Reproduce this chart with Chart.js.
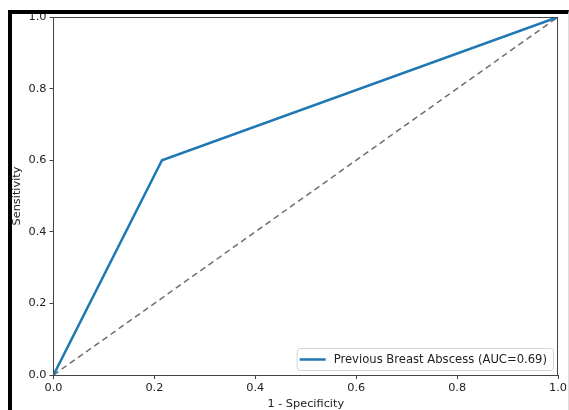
<!DOCTYPE html>
<html>
<head>
<meta charset="utf-8">
<script src="https://cdn.jsdelivr.net/npm/chart.js@4"></script>
<style>
  html, body { margin: 0; padding: 0; background: #fff; }
  #wrap { position: relative; width: 569px; height: 410px; }
  #frame {
    position: absolute; left: 8px; top: 10px; right: 0; bottom: 0;
    border-top: 4px solid #000; border-left: 4px solid #000;
    border-right: 1px solid #ddd;
    pointer-events: none;
  }
</style>
</head>
<body>
<div id="wrap">
  <canvas id="roc-chart"></canvas>
  <div id="frame"></div>
</div>
<script>
// ROC curve
const fprValues = [0, 0.215, 1];
const tprValues = [0, 0.6, 1];
const chanceX = [0, 1];
const chanceY = [0, 1];
const rocLabel = 'Previous Breast Abscess (AUC=0.69)';
const tickValues = [0, 0.2, 0.4, 0.6, 0.8, 1.0];

const FONT = 'DejaVu Sans';
const axisColor = '#444';

// spines on top/right + legend box inside the plot, matplotlib style
const boxPlugin = {
    id: 'boxPlugin',
    afterDraw(chart) {
        const { ctx, chartArea: a } = chart;
        ctx.save();
        ctx.strokeStyle = axisColor;
        ctx.lineWidth = 1;
        ctx.beginPath();
        ctx.moveTo(a.left, a.top + 0.5);
        ctx.lineTo(a.right, a.top + 0.5);
        ctx.moveTo(a.right - 0.5, a.top);
        ctx.lineTo(a.right - 0.5, a.bottom);
        ctx.stroke();

        // legend
        const ds = chart.data.datasets[0];
        ctx.font = `11.6px "${FONT}"`;
        const tw = ctx.measureText(ds.label).width;
        const w = tw + 43, h = 22;
        const x = a.right - 5 - w, y = a.bottom - 5 - h;
        ctx.fillStyle = 'rgba(255,255,255,0.8)';
        ctx.strokeStyle = '#d4d4d4';
        ctx.beginPath();
        ctx.roundRect(x + 0.5, y + 0.5, w, h, 3);
        ctx.fill();
        ctx.stroke();
        ctx.strokeStyle = ds.borderColor;
        ctx.lineWidth = ds.borderWidth;
        ctx.beginPath();
        ctx.moveTo(x + 3, y + h / 2 + 0.5);
        ctx.lineTo(x + 29, y + h / 2 + 0.5);
        ctx.stroke();
        ctx.fillStyle = '#222';
        ctx.textBaseline = 'middle';
        ctx.fillText(ds.label, x + 37, y + h / 2 + 1);
        ctx.restore();
    }
};

const tickFmt = v => Number(v).toFixed(1);

new Chart(document.getElementById('roc-chart'), {
    type: 'line',
    data: {
        datasets: [
            {
                label: rocLabel,
                data: fprValues.map((x, i) => ({ x, y: tprValues[i] })),
                borderColor: '#1f77b4',
                borderWidth: 2.5,
                pointRadius: 0,
                tension: 0
            },
            {
                label: 'chance',
                data: chanceX.map((x, i) => ({ x, y: chanceY[i] })),
                borderColor: '#6e6e6e',
                borderWidth: 1.5,
                borderDash: [6, 4],
                pointRadius: 0,
                tension: 0
            }
        ]
    },
    options: {
        responsive: true,
        maintainAspectRatio: false,
        animation: false,
        layout: { padding: { left: 0, top: 17, right: 10, bottom: 0 } },
        plugins: {
            legend: { display: false },
            tooltip: { enabled: false }
        },
        scales: {
            x: {
                type: 'linear',
                min: 0, max: 1,
                afterFit: s => { s.height = 35; },
                afterBuildTicks: s => { s.ticks = tickValues.map(v => ({ value: v })); },
                border: { display: true, color: axisColor, width: 1 },
                grid: { drawOnChartArea: false, drawTicks: true, tickLength: 4, color: axisColor },
                ticks: { color: '#222', padding: 2, maxRotation: 0, font: { family: FONT, size: 11.3 }, callback: tickFmt },
                title: { display: true, text: '1 - Specificity', color: '#222', padding: { top: 0, bottom: -1 }, font: { family: FONT, size: 11.3 } }
            },
            y: {
                type: 'linear',
                min: 0, max: 1,
                afterFit: s => { s.width = 53.5; },
                afterBuildTicks: s => { s.ticks = tickValues.map(v => ({ value: v })); },
                border: { display: true, color: axisColor, width: 1 },
                grid: { drawOnChartArea: false, drawTicks: true, tickLength: 4, color: axisColor },
                ticks: { color: '#222', padding: 3, font: { family: FONT, size: 11.3 }, callback: tickFmt },
                title: { display: true, text: 'Sensitivity', color: '#222', padding: { top: 10, bottom: 0 }, font: { family: FONT, size: 11.3 } }
            }
        }
    },
    plugins: [boxPlugin]
});
</script>
</body>
</html>
